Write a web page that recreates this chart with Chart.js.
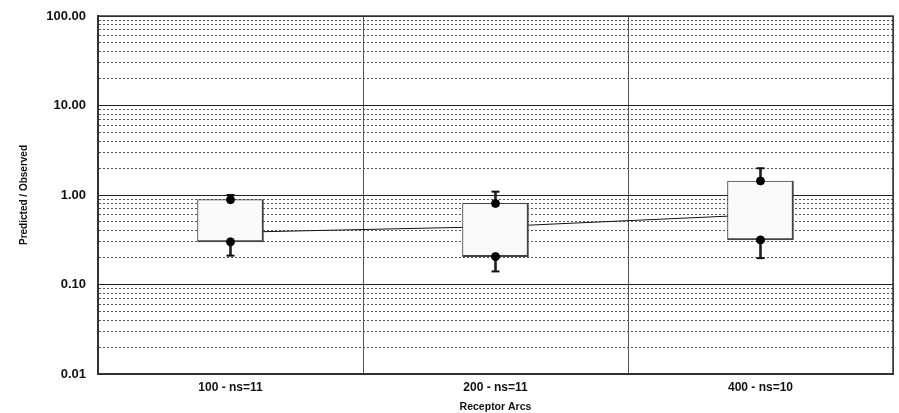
<!DOCTYPE html>
<html>
<head>
<meta charset="utf-8">
<script src="https://cdn.jsdelivr.net/npm/chart.js@4"></script>
<style>
html, body { margin: 0; background: #fff; }
#wrap { width: 899px; height: 413px; }
</style>
</head>
<body>
<div id="wrap"><canvas id="chart"></canvas></div>
<script>
const arcs = ['100 - ns=11', '200 - ns=11', '400 - ns=10'];
const whiskLow = [0.21, 0.14, 0.197];
const boxLow = [0.30, 0.205, 0.315];
const boxHigh = [0.886, 0.805, 1.435];
const whiskHigh = [1.00, 1.09, 1.99];
const middle = [0.382, 0.443, 0.603];
const decades = [0.01, 0.1, 1, 10, 100];
const decadeLabels = ['0.01', '0.10', '1.00', '10.00', '100.00'];

const font = 'Liberation Sans, Arial, sans-serif';

// frame round the plot area
const frame = {
    id: 'frame',
    afterDraw(chart) {
        const { ctx, chartArea: a } = chart;
        ctx.save();
        ctx.strokeStyle = '#333';
        ctx.lineWidth = 1.5;
        ctx.strokeRect(a.left, a.top, a.right - a.left, a.bottom - a.top);
        ctx.restore();
    }
};

new Chart(document.getElementById('chart'), {
    type: 'bar',
    data: {
        labels: arcs,
        datasets: [
            {
                type: 'line',
                data: middle,
                borderColor: '#111',
                borderWidth: 1,
                pointRadius: 0,
                order: 10
            },
            {
                data: whiskLow.map((v, i) => [v, whiskHigh[i]]),
                backgroundColor: '#222',
                borderWidth: 0,
                barThickness: 2,
                grouped: false,
                order: 8
            },
            {
                data: boxLow.map((v, i) => [v, boxHigh[i]]),
                backgroundColor: '#fafafa',
                borderColor: '#444',
                borderWidth: { left: 1, top: 1, right: 2, bottom: 2 },
                borderSkipped: false,
                barThickness: 66,
                grouped: false,
                order: 6
            },
            {
                type: 'line',
                data: whiskHigh,
                showLine: false,
                pointStyle: 'line',
                pointRadius: 4,
                pointBorderWidth: 2,
                pointBorderColor: '#111',
                order: 2
            },
            {
                type: 'line',
                data: whiskLow,
                showLine: false,
                pointStyle: 'line',
                pointRadius: 4,
                pointBorderWidth: 2,
                pointBorderColor: '#111',
                order: 2
            },
            {
                type: 'line',
                data: boxHigh,
                showLine: false,
                pointRadius: 4,
                pointBackgroundColor: '#000',
                pointBorderColor: '#000',
                order: 1
            },
            {
                type: 'line',
                data: boxLow,
                showLine: false,
                pointRadius: 4,
                pointBackgroundColor: '#000',
                pointBorderColor: '#000',
                order: 1
            }
        ]
    },
    options: {
        responsive: true,
        maintainAspectRatio: false,
        animation: false,
        layout: { padding: { top: 16, right: 6, bottom: 0, left: 0 } },
        plugins: { legend: { display: false }, tooltip: { enabled: false } },
        scales: {
            x: {
                grid: { color: '#555', lineWidth: 1, drawTicks: false },
                border: { color: '#333', width: 2 },
                ticks: { padding: 6, color: '#111', font: { family: font, size: 12, weight: 'bold' } },
                title: {
                    display: true,
                    text: 'Receptor Arcs',
                    color: '#111',
                    padding: { top: 4, bottom: 0 },
                    font: { family: font, size: 10.5, weight: 'bold' }
                },
                afterFit: s => { s.height = 39 }
            },
            y: {
                type: 'logarithmic',
                min: 0.01,
                max: 100,
                afterBuildTicks: s => {
                    s.ticks = [];
                    decades.forEach((d, i) => {
                        const n = i < decades.length - 1 ? 9 : 1;
                        for (let m = 1; m <= n; m++)
                            s.ticks.push({ value: +(m * d).toPrecision(3), major: m === 1 });
                    });
                },
                ticks: {
                    autoSkip: false,
                    padding: 12,
                    color: '#111',
                    font: { family: font, size: 13, weight: 'bold' },
                    callback: value => {
                        const i = decades.indexOf(value);
                        return i >= 0 ? decadeLabels[i] : '';
                    }
                },
                grid: {
                    drawTicks: false,
                    color: ctx => ctx.tick && decades.includes(ctx.tick.value) ? '#222' : '#555'
                },
                border: {
                    color: '#333',
                    width: 2,
                    dash: ctx => ctx.tick && !decades.includes(ctx.tick.value) ? [2, 2] : []
                },
                title: {
                    display: true,
                    text: 'Predicted / Observed',
                    color: '#111',
                    padding: { top: 18, bottom: 0 },
                    font: { family: font, size: 10, weight: 'bold' }
                },
                afterFit: s => {
                    s.width = 98;
                    s.paddingTop = 0;
                    s.paddingBottom = 0;
                }
            }
        }
    },
    plugins: [frame]
});
</script>
</body>
</html>
